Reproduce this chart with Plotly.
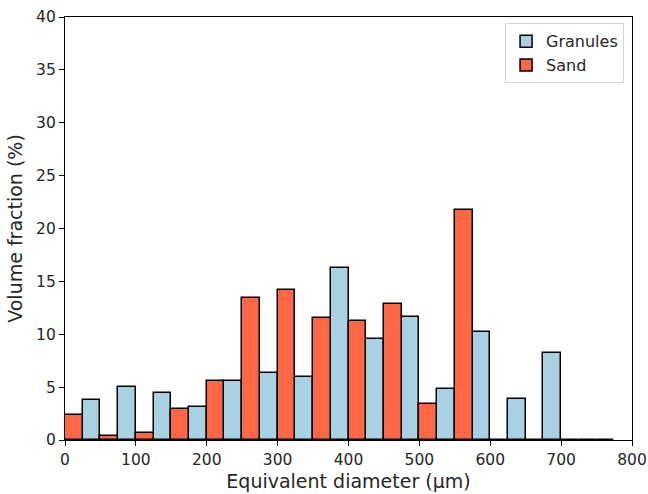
import numpy as np
import plotly.graph_objects as go

bin_starts = [0, 50, 100, 150, 200, 250, 300, 350, 400, 450, 500, 550, 600, 650, 700, 750]
sand = [2.4, 0.4, 0.7, 2.9, 5.6, 13.4, 14.2, 11.55, 11.3, 12.85, 3.4, 21.75, 0, 0, 0, 0]
granules = [3.8, 5.0, 4.4, 3.1, 5.6, 6.3, 6.0, 16.3, 9.55, 11.65, 4.85, 10.25, 3.9, 8.2, 0]
bin_width = 50

x_sand = [b + bin_width / 4 for b in bin_starts]
x_gran = [b + 3 * bin_width / 4 for b in bin_starts[:len(granules)]]

fig = go.Figure()
fig.add_trace(go.Bar(x=x_gran, y=granules, width=bin_width / 2, name="Granules",
                     marker=dict(color="#a9d1e4", line=dict(color="black", width=1.5))))
fig.add_trace(go.Bar(x=x_sand, y=sand, width=bin_width / 2, name="Sand",
                     marker=dict(color="#ff6745", line=dict(color="black", width=1.5))))

font = "DejaVu Sans"
fig.update_layout(
    width=648, height=494,
    margin=dict(l=65, r=16, t=17, b=54),
    paper_bgcolor="white", plot_bgcolor="white",
    font=dict(family=font, color="#262626", size=15),
    barmode="overlay", bargap=0,
    showlegend=True,
    legend=dict(x=0.986, y=0.985, xanchor="right", yanchor="top",
                bordercolor="#d6d6d6", borderwidth=1, bgcolor="white",
                font=dict(size=16, family=font), tracegroupgap=0),
    xaxis=dict(range=[0, 800], tickvals=list(range(0, 801, 100)), automargin=False,
               showline=True, linecolor="black", linewidth=1.2, mirror=True,
               ticks="outside", ticklen=5, tickcolor="black", showgrid=False, zeroline=False,
               title=dict(text="Equivalent diameter (µm)", font=dict(size=19), standoff=6),
               tickfont=dict(size=15.5)),
    yaxis=dict(range=[0, 40], tickvals=list(range(0, 41, 5)), automargin=False,
               showline=True, linecolor="black", linewidth=1.2, mirror=True,
               ticks="outside", ticklen=5, tickcolor="black", showgrid=False, zeroline=False,
               title=dict(text="Volume fraction (%)", font=dict(size=19), standoff=8),
               tickfont=dict(size=15.5)),
)
fig.write_html("out.html")
